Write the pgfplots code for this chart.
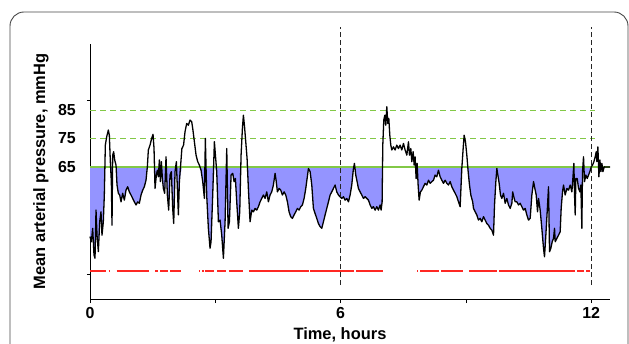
\documentclass[border=0pt]{standalone}
\usepackage{fontspec}
\setmainfont{Liberation Sans}
\usepackage{pgfplots}
\pgfplotsset{compat=1.18}
\usepgfplotslibrary{fillbetween}
\usepackage{pgfplotstable}

\definecolor{mapgreen}{RGB}{130,200,70}
\definecolor{mapfill}{RGB}{148,148,255}
\definecolor{lineRed}{RGB}{255,40,35}
\definecolor{framegray}{RGB}{70,70,70}

\pgfplotstableread{
t v
0 40.6
0.032 38.8
0.064 43.5
0.096 34.1
0.12 33
0.144 49.9
0.168 41.1
0.2 35.3
0.232 45.8
0.263 49.3
0.287 41.1
0.319 45.8
0.343 55.2
0.367 72.7
0.399 75.6
0.439 78
0.463 76.2
0.487 66.9
0.511 59.9
0.527 44.6
0.543 69.2
0.567 70.4
0.591 67.5
0.623 65.7
0.647 58.7
0.679 55.8
0.711 55.2
0.743 52.8
0.782 55.8
0.822 53.4
0.862 56.9
0.902 58.1
0.942 56.3
0.982 55.2
1.022 54
1.062 52.8
1.102 51.7
1.142 52.8
1.182 52.3
1.222 55.2
1.262 56.9
1.301 58.1
1.341 60.4
1.373 65.1
1.397 71
1.437 72.7
1.477 75.1
1.509 76.5
1.533 71.5
1.557 57.5
1.589 62.2
1.613 63.9
1.637 61.6
1.661 67.5
1.685 59.9
1.709 66.9
1.733 61
1.757 57.5
1.788 55.8
1.820 68.6
1.852 55.2
1.884 49.9
1.916 62.2
1.948 63.4
1.98 50.5
2.004 45.2
2.036 63.4
2.068 66.9
2.092 57.5
2.116 48.2
2.140 59.9
2.2 71.5
2.24 72.7
2.275 77.4
2.315 80.3
2.355 79.7
2.395 81.5
2.435 80.9
2.459 78.6
2.499 73.9
2.539 69.2
2.579 66.9
2.619 65.7
2.659 63.9
2.699 59.9
2.739 54
2.762 75.1
2.794 55.2
2.834 43.5
2.874 36.5
2.898 38.8
2.938 55.2
2.978 73.9
3.034 63.4
3.074 45.8
3.114 46.4
3.154 41.1
3.194 33
3.234 45.8
3.274 71.5
3.306 43.5
3.338 45.8
3.378 62.2
3.418 62.8
3.449 59.9
3.481 61
3.513 52.8
3.553 43.5
3.585 49.3
3.617 69.2
3.649 78.6
3.673 83.2
3.697 79.7
3.729 73.9
3.761 68
3.792 57.5
3.832 45.8
3.872 49.9
3.912 49.3
3.952 50.5
3.992 49.9
4.032 51.1
4.072 52.8
4.112 54
4.152 55.2
4.192 54
4.232 56.3
4.271 52.8
4.311 55.2
4.351 56.3
4.391 58.7
4.431 62.8
4.455 60.4
4.487 56.3
4.527 57.5
4.567 56.9
4.607 55.2
4.647 56.3
4.687 55.2
4.727 52.8
4.766 49.3
4.806 47.6
4.846 47
4.886 48.2
4.926 49.3
4.966 50.5
5.006 49.9
5.046 51.1
5.086 51.7
5.126 54
5.166 57.5
5.198 61
5.23 64.5
5.27 63.4
5.31 58.7
5.349 50.5
5.389 48.7
5.429 47
5.469 45.2
5.509 44.1
5.549 43.5
5.589 45.8
5.629 48.2
5.669 50.5
5.709 52.8
5.749 55.2
5.788 56.3
5.828 57.5
5.868 58.7
5.908 56.3
5.948 55.2
5.988 54.6
6.028 54
6.068 54.6
6.108 53.4
6.148 54
6.188 52.8
6.228 55.2
6.267 58.7
6.307 64.5
6.331 66.3
6.363 62.2
6.395 59.9
6.427 57.5
6.467 56.3
6.507 55.2
6.547 54
6.587 54.6
6.627 54
6.667 53.4
6.707 51.7
6.747 50.5
6.786 51.1
6.826 49.9
6.866 51.1
6.906 49.9
6.946 51.7
6.97 49.9
6.994 52.8
7.01 72.7
7.034 81.5
7.058 83.2
7.082 79.7
7.106 86.2
7.13 80.3
7.154 82.1
7.178 76.2
7.202 72.7
7.226 71
7.265 72.1
7.305 71
7.345 72.7
7.385 71.5
7.425 72.7
7.465 71
7.505 73.3
7.545 71
7.585 69.2
7.625 73.9
7.649 69.2
7.681 71.5
7.705 66.9
7.737 70.4
7.761 65.7
7.784 68.6
7.808 61
7.832 66.3
7.856 58.7
7.88 53.4
7.912 56.3
7.944 56.9
7.984 58.1
8.024 59.3
8.064 58.7
8.104 60.4
8.144 59.3
8.184 59.9
8.224 60.4
8.263 62.2
8.303 61.6
8.343 63.9
8.383 61.6
8.423 60.4
8.463 59.3
8.503 60.4
8.543 59.3
8.583 58.7
8.623 59.9
8.663 58.1
8.703 56.9
8.743 55.8
8.783 54.6
8.822 52.8
8.862 51.1
8.902 64.5
8.934 71.5
8.958 76.2
8.99 73.9
9.022 69.2
9.054 63.4
9.086 58.7
9.118 55.2
9.162 52.8
9.182 50.5
9.222 49.3
9.261 48.2
9.301 46.4
9.341 47
9.381 45.8
9.421 47.6
9.461 46.4
9.501 45.2
9.541 44.6
9.581 43.5
9.621 42.9
9.661 41.1
9.685 51.7
9.717 59.9
9.741 64.5
9.765 62.2
9.796 59.3
9.828 55.2
9.86 54
9.9 55.8
9.94 52.3
9.98 54
10.02 51.7
10.06 50.5
10.1 52.3
10.12 56.3
10.156 54
10.18 52.8
10.22 52.8
10.26 51.7
10.299 52.3
10.339 51.1
10.379 49.9
10.419 50.5
10.459 48.2
10.499 46.4
10.539 47
10.579 55.2
10.619 59.9
10.651 57.5
10.683 55.2
10.715 49.3
10.739 54
10.778 49.9
10.818 43.5
10.858 36.5
10.882 33.5
10.914 41.1
10.946 49.3
10.978 58.1
11.002 35.3
11.034 36.5
11.066 38.8
11.098 40
11.122 43.5
11.138 38.8
11.178 40
11.218 41.1
11.257 42.3
11.281 50.5
11.313 56.3
11.337 58.7
11.377 55.2
11.417 57.5
11.457 56.9
11.497 58.7
11.537 56.3
11.561 61
11.585 66.3
11.601 55.2
11.617 48.2
11.633 61
11.665 61
11.697 57.5
11.729 56.3
11.752 58.7
11.776 43.5
11.792 63.4
11.816 68.6
11.84 59.9
11.872 62.2
11.904 61
11.936 62.2
11.968 63.4
12.0 65.1
12.032 65.7
12.064 66.9
12.096 68.6
12.12 70.4
12.136 66.9
12.16 72.1
12.184 61.6
12.208 67.5
12.232 63.4
12.256 66.3
12.28 63.4
12.312 65.1
12.33 65
12.45 65
}\mapdata

\begin{document}
\begin{tikzpicture}
\begin{axis}[
  at={(0,0)}, anchor=south west,
  scale only axis, width=520bp, height=255bp,
  xmin=0, xmax=12.45, ymin=18.7, ymax=108.2,
  axis x line=bottom, axis y line=left,
  axis line style={-, line width=0.8bp},
  clip=false,
  xtick={0,3,6,9,12}, xticklabels={0,,6,,12},
  ytick={65,75,85}, yticklabels={65,75,85},
  ytick style={draw=none},
  xtick style={line width=0.8bp, black},
  tick align=outside, major tick length=4bp,
  extra y ticks={27.5,88.5}, extra y tick labels={},
  extra y tick style={ytick style={draw=black, line width=0.6bp}, major tick length=3bp, tick align=outside},
  ticklabel style={font=\fontsize{16}{18}\selectfont\bfseries},
  xticklabel style={inner sep=0pt, yshift=-4bp},
  yticklabel style={inner sep=0pt, xshift=-10bp},
  xlabel={Time, hours}, ylabel={Mean arterial pressure, mmHg},
  label style={font=\fontsize{16.5}{19}\selectfont\bfseries},
  xlabel style={at={(axis description cs:0.4807,-0.157)}, anchor=base, inner sep=0pt},
  ylabel style={at={(axis description cs:-0.0865,0.5)}, anchor=base, inner sep=0pt},
  unbounded coords=jump,
]
\addplot[draw=none, name path=lowc, forget plot] table[x=t, y expr={min(\thisrow{v},65)}] {\mapdata};
\addplot[draw=none, name path=basel, forget plot] coordinates {(0,65) (12.45,65)};
\addplot[fill=mapfill, draw=none, forget plot] fill between[of=lowc and basel];

\addplot[draw=mapgreen, line width=1.8bp] coordinates {(0,65) (12.45,65)};
\addplot[draw=mapgreen, line width=0.9bp, dash pattern=on 6bp off 4bp] coordinates {(0,75) (12.1,75)};
\addplot[draw=mapgreen, line width=0.9bp, dash pattern=on 6bp off 4bp] coordinates {(0,85) (12.1,85)};

\addplot[draw=lineRed, color=lineRed, line width=1.4bp] coordinates {
(0,28.5) (0.383,28.5) (0.383,nan)
(0.448,28.5) (0.479,28.5) (0.479,nan)
(0.64,28.5) (1.406,28.5) (1.406,nan)
(1.564,28.5) (1.622,28.5) (1.622,nan)
(1.677,28.5) (1.861,28.5) (1.861,nan)
(1.916,28.5) (2.18,28.5) (2.18,nan)
(2.604,28.5) (2.642,28.5) (2.642,nan)
(2.683,28.5) (2.738,28.5) (2.738,nan)
(2.762,28.5) (2.977,28.5) (2.977,nan)
(3.042,28.5) (3.257,28.5) (3.257,nan)
(3.322,28.5) (3.657,28.5) (3.657,nan)
(3.801,28.5) (5.238,28.5) (5.238,nan)
(5.27,28.5) (6.32,28.5) (6.32,nan)
(6.371,28.5) (7.025,28.5) (7.025,nan)
(7.84,28.5) (7.864,28.5) (7.864,nan)
(7.904,28.5) (8.367,28.5) (8.367,nan)
(8.4,28.5) (8.927,28.5) (8.927,nan)
(9.085,28.5) (9.756,28.5) (9.756,nan)
(9.79,28.5) (11.617,28.5) (11.617,nan)
(11.657,28.5) (11.816,28.5) (11.816,nan)
(11.88,28.5) (11.976,28.5)
};

\addplot[draw=black, line width=1.3bp, line join=round] table[x=t, y=v] {\mapdata};

\addplot[draw=black!85, line width=0.8bp, dash pattern=on 5bp off 3bp] coordinates {(6,23.6) (6,114.1)};
\addplot[draw=black!85, line width=0.8bp, dash pattern=on 5bp off 3bp] coordinates {(12,23.6) (12,114.1)};
\end{axis}
\path[use as bounding box] (-90bp,-45bp) rectangle (539bp,299bp);
\draw[framegray, line width=0.9bp, rounded corners=14bp] (-80bp,-80bp) -- (-80bp,287bp) -- (538bp,287bp) -- (538bp,-80bp);
\end{tikzpicture}
\end{document}
